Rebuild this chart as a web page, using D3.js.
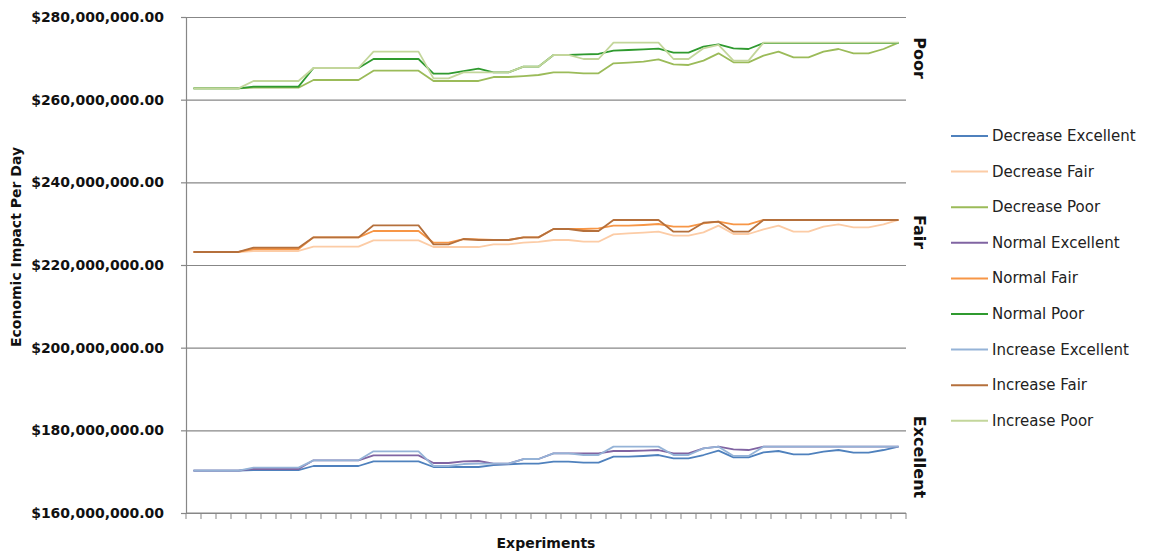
<!DOCTYPE html>
<html>
<head>
<meta charset="utf-8">
<script src="https://cdn.jsdelivr.net/npm/d3@7"></script>
<style>
  body { margin: 0; background: #ffffff; }
  svg { display: block; }
  text { font-family: "DejaVu Sans", sans-serif; }
</style>
</head>
<body>
<svg id="chart" width="1150" height="554"></svg>
<script>
// Experiment runs along the category axis
const experiments = [1,2,3,4,5,6,7,8,9,10,11,12,13,14,15,16,17,18,19,20,21,22,23,24,
                     25,26,27,28,29,30,31,32,33,34,35,36,37,38,39,40,41,42,43,44,45,46,47,48];

// Value axis ticks, dollars per day
const yTickValues = [160e6, 180e6, 200e6, 220e6, 240e6, 260e6, 280e6];

// Condition labels shown on the right edge
const conditionLabels = ["Poor", "Fair", "Excellent"];

// Series, in legend order
const seriesNames = ["Decrease Excellent", "Decrease Fair", "Decrease Poor",
                     "Normal Excellent", "Normal Fair", "Normal Poor",
                     "Increase Excellent", "Increase Fair", "Increase Poor"];

// Economic impact per day, in millions of dollars
const decreaseExcellent = [170.24,170.24,170.24,170.24, 170.40,170.40,170.40,170.40, 171.37,171.37,171.37,171.37,
  172.50,172.50,172.50,172.50, 171.13,171.13,171.13,171.13, 171.60,171.80,171.94,171.94,
  172.42,172.42,172.18,172.18, 173.63,173.63,173.79,174.03, 173.23,173.23,174.03,175.08,
  173.47,173.47,174.68,175.00, 174.19,174.19,174.84,175.24, 174.60,174.60,175.24,176.05];
const decreaseFair = [223.15,223.15,223.15,223.15, 223.39,223.39,223.39,223.39, 224.43,224.43,224.43,224.43,
  225.97,225.97,225.97,225.97, 224.35,224.35,224.35,224.35, 225.00,225.00,225.40,225.60,
  226.05,226.05,225.64,225.64, 227.42,227.66,227.82,228.06, 227.10,227.10,227.90,229.52,
  227.50,227.50,228.63,229.52, 228.06,228.06,229.27,229.84, 229.11,229.11,229.84,230.89];
const decreasePoor = [262.74,262.74,262.74,262.74, 262.90,262.90,262.90,262.90, 264.76,264.76,264.76,264.76,
  267.02,267.02,267.02,267.02, 264.52,264.52,264.52,264.52, 265.48,265.48,265.72,265.97,
  266.61,266.61,266.37,266.37, 268.79,268.95,269.19,269.76, 268.55,268.39,269.44,271.21,
  269.03,269.03,270.65,271.61, 270.24,270.24,271.61,272.26, 271.21,271.21,272.26,273.79];
const normalExcellent = [170.24,170.24,170.24,170.24, 170.65,170.65,170.65,170.65, 172.74,172.74,172.74,172.74,
  173.95,173.95,173.95,173.95, 172.10,172.10,172.50,172.58, 171.94,171.94,173.06,173.06,
  174.44,174.44,174.44,174.44, 175.00,175.00,175.08,175.24, 174.44,174.44,175.65,176.05,
  175.40,175.24,176.05,176.05, 176.05,176.05,176.05,176.05, 176.05,176.05,176.05,176.05];
const normalFair = [223.15,223.15,223.15,223.15, 223.87,223.87,223.87,223.87, 226.69,226.69,226.69,226.69,
  228.23,228.23,228.23,228.23, 225.40,225.40,226.29,226.21, 226.05,226.05,226.69,226.69,
  228.71,228.71,228.71,228.87, 229.52,229.52,229.68,229.92, 229.27,229.27,230.08,230.48,
  229.84,229.84,230.89,230.89, 230.89,230.89,230.89,230.89, 230.89,230.89,230.89,230.89];
const normalPoor = [262.74,262.74,262.74,262.74, 263.14,263.14,263.14,263.14, 267.66,267.66,267.66,267.66,
  269.84,269.84,269.84,269.84, 266.29,266.29,266.90,267.50, 266.61,266.61,267.98,267.98,
  270.81,270.81,270.97,271.05, 271.85,272.02,272.18,272.34, 271.37,271.37,272.82,273.39,
  272.42,272.26,273.70,273.70, 273.70,273.70,273.70,273.70, 273.70,273.70,273.70,273.70];
const increaseExcellent = [170.24,170.24,170.24,170.24, 170.97,170.97,170.97,170.97, 172.74,172.74,172.74,172.74,
  174.92,174.92,174.92,174.92, 171.37,171.37,171.85,171.94, 171.94,171.94,173.06,173.06,
  174.44,174.44,174.03,174.03, 176.05,176.05,176.05,176.05, 174.03,174.03,175.65,176.05,
  173.79,173.79,176.05,176.05, 176.05,176.05,176.05,176.05, 176.05,176.05,176.05,176.05];
const increaseFair = [223.15,223.15,223.15,223.15, 224.19,224.19,224.19,224.19, 226.69,226.69,226.69,226.69,
  229.60,229.60,229.60,229.60, 225.00,225.00,226.29,226.05, 226.05,226.05,226.69,226.69,
  228.71,228.71,228.23,228.23, 230.89,230.89,230.89,230.89, 228.06,228.06,230.24,230.48,
  228.06,228.06,230.89,230.89, 230.89,230.89,230.89,230.89, 230.89,230.89,230.89,230.89];
const increasePoor = [262.74,262.74,262.74,262.74, 264.52,264.52,264.52,264.52, 267.66,267.66,267.66,267.66,
  271.61,271.61,271.61,271.61, 265.16,265.16,266.61,266.61, 266.61,266.61,267.98,267.98,
  270.81,270.81,269.84,269.84, 273.79,273.79,273.79,273.79, 269.84,269.84,272.42,273.23,
  269.44,269.44,273.79,273.79, 273.79,273.79,273.79,273.79, 273.79,273.79,273.79,273.79];

const seriesValues = [decreaseExcellent, decreaseFair, decreasePoor,
                      normalExcellent, normalFair, normalPoor,
                      increaseExcellent, increaseFair, increasePoor];
const seriesColors = ["#4f81bd", "#fccca6", "#9bbb59",
                      "#8064a2", "#f79646", "#2f9a2f",
                      "#95b3d7", "#b5703c", "#c3d69b"];
const MILLION = 1e6;

const svg = d3.select("#chart");
const plot = { left: 186, right: 906, top: 17, bottom: 513 };
const gridColor = "#878787";

const x = d3.scaleBand().domain(experiments).range([plot.left, plot.right]).padding(0);
const y = d3.scaleLinear().domain([160e6, 280e6]).range([plot.bottom, plot.top]);

// Horizontal gridlines
svg.append("g")
  .attr("transform", `translate(${plot.left},0)`)
  .call(d3.axisLeft(y).tickValues(yTickValues).tickSize(-(plot.right - plot.left)).tickFormat(""))
  .call(g => g.select(".domain").remove())
  .call(g => g.selectAll("line").attr("stroke", gridColor).attr("stroke-width", 1.2));

// Left value axis
const moneyFmt = d3.format(",.2f");
svg.append("g")
  .attr("transform", `translate(${plot.left},0)`)
  .call(d3.axisLeft(y).tickValues(yTickValues).tickSize(5).tickPadding(17)
        .tickFormat(d => "$" + moneyFmt(d)))
  .call(g => g.select(".domain").attr("stroke", gridColor).attr("stroke-width", 1.2))
  .call(g => g.selectAll("line").attr("stroke", gridColor).attr("stroke-width", 1.2))
  .call(g => g.selectAll("text").attr("font-family", "DejaVu Sans")
        .attr("font-weight", "bold").attr("font-size", 14).attr("fill", "#111"));

// Bottom category axis: tick marks sit between experiments
const bottom = svg.append("g").attr("transform", `translate(0,${plot.bottom})`);
bottom.append("line")
  .attr("x1", plot.left).attr("x2", plot.right)
  .attr("stroke", gridColor).attr("stroke-width", 1.2);
const boundaries = experiments.map(d => x(d)).concat([x(experiments[experiments.length - 1]) + x.bandwidth()]);
bottom.selectAll("line.tick")
  .data(boundaries)
  .join("line")
  .attr("class", "tick")
  .attr("x1", d => d).attr("x2", d => d)
  .attr("y1", 0).attr("y2", 6)
  .attr("stroke", gridColor).attr("stroke-width", 1);

// Series lines
const line = d3.line()
  .x((d, i) => x(experiments[i]) + x.bandwidth() / 2)
  .y(d => y(d * MILLION));
svg.append("g")
  .selectAll("path")
  .data(seriesValues)
  .join("path")
  .attr("d", d => line(d))
  .attr("fill", "none")
  .attr("stroke", (d, i) => seriesColors[i])
  .attr("stroke-width", 1.8)
  .attr("stroke-linejoin", "round");

// Axis titles
svg.append("text")
  .attr("transform", "translate(16,247) rotate(-90)")
  .attr("text-anchor", "middle")
  .attr("dominant-baseline", "central")
  .attr("font-weight", "bold")
  .attr("font-size", 14)
  .attr("fill", "#111")
  .text("Economic Impact Per Day");

svg.append("text")
  .attr("x", (plot.left + plot.right) / 2)
  .attr("y", 543)
  .attr("text-anchor", "middle")
  .attr("dominant-baseline", "central")
  .attr("font-weight", "bold")
  .attr("font-size", 14)
  .attr("fill", "#111")
  .text("Experiments");

// Condition labels along the right edge
const conditionCenters = [58, 232, 457];
svg.append("g")
  .selectAll("text")
  .data(conditionLabels)
  .join("text")
  .attr("transform", (d, i) => `translate(919,${conditionCenters[i]}) rotate(90)`)
  .attr("text-anchor", "middle")
  .attr("dominant-baseline", "central")
  .attr("font-weight", "bold")
  .attr("font-size", 16)
  .attr("fill", "#111")
  .text(d => d);

// Legend
const legend = svg.append("g").attr("transform", "translate(951,136)");
const item = legend.selectAll("g")
  .data(seriesNames)
  .join("g")
  .attr("transform", (d, i) => `translate(0,${i * 35.6})`);
item.append("line")
  .attr("x1", 0).attr("x2", 37)
  .attr("stroke", (d, i) => seriesColors[i])
  .attr("stroke-width", 2);
item.append("text")
  .attr("x", 41)
  .attr("dominant-baseline", "central")
  .attr("font-size", 15)
  .attr("fill", "#222")
  .text(d => d);
</script>
</body>
</html>
